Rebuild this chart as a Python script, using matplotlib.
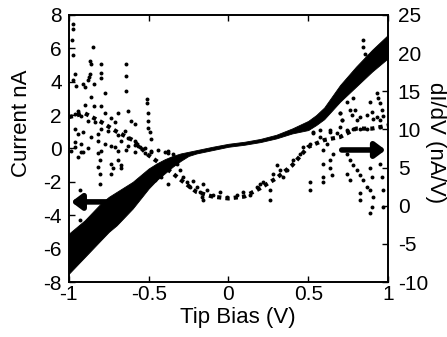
import numpy as np
import matplotlib
matplotlib.use("Agg")
import matplotlib.pyplot as plt
from matplotlib import rcParams

rcParams['font.family'] = ['Liberation Sans', 'DejaVu Sans']
rcParams['axes.unicode_minus'] = False

# ---- I-V band (left axis, nA): lower / upper edge
iv_bias = [-1.0, -0.95, -0.9, -0.85, -0.8, -0.75, -0.7, -0.65, -0.6, -0.55, -0.5,
           -0.45, -0.4, -0.35, -0.3, -0.25, -0.2, -0.1, 0.0, 0.1, 0.2, 0.3, 0.4,
           0.5, 0.55, 0.6, 0.7, 0.8, 0.9, 1.0]
iv_low = [-7.5, -7.0, -6.5, -6.0, -5.5, -5.0, -4.6, -4.1, -3.6, -3.0, -2.4,
          -1.9, -1.5, -1.1, -0.75, -0.45, -0.3, -0.1, 0.1, 0.22, 0.38, 0.6, 0.9,
          1.1, 1.4, 1.75, 2.8, 3.7, 4.6, 5.4]
iv_high = [-5.1, -4.7, -4.3, -3.8, -3.3, -2.9, -2.6, -2.3, -2.0, -1.6, -1.2,
           -0.9, -0.65, -0.45, -0.3, -0.2, -0.1, 0.1, 0.28, 0.4, 0.57, 0.82, 1.2,
           1.65, 2.0, 2.45, 3.8, 4.9, 5.9, 6.8]

# ---- dI/dV trend (right axis, nA/V)
didv_bias = [-1.0, -0.9, -0.8, -0.7, -0.6, -0.5, -0.4, -0.3, -0.2, -0.1, 0.0,
             0.1, 0.2, 0.3, 0.4, 0.5, 0.6, 0.7, 0.8, 0.9, 1.0]
didv_val = [11.6, 12.1, 11.0, 9.7, 8.6, 6.6, 5.1, 3.4, 1.8, 1.2, 0.95,
            1.2, 2.3, 3.6, 5.3, 7.7, 8.6, 9.0, 10.1, 10.1, 10.5]

# ---- scattered dI/dV points
scat_bias = [-0.975, -0.975, -0.981, -0.975, -0.849, -0.870, -0.860, -0.797, -0.797, -0.797,
             -0.640, -0.640, -0.640, -0.964, -0.975, -0.954, -0.912, -0.901, -0.870, -0.876,
             -0.881, -0.843, -0.772, -0.864, -0.901, -0.843, -0.797, -0.509, -0.509, -0.630,
             -0.504, -0.693, -0.776, -0.964, -0.943, -0.922, -0.881, -0.839, -0.734, -0.713,
             -0.609, -0.588, -0.504, -0.504, -0.494, -0.484, -0.964, -0.943, -0.912, -0.860,
             -0.818, -0.797, -0.755, -0.693, -0.651, -0.630, -0.588, -0.567, -0.964, -0.922,
             -0.881, -0.818, -0.776, -0.734, -0.672, -0.630, -0.525, -0.985, -0.912, -0.797,
             -0.693, -0.588, -0.484, -0.400, -0.379,
             -0.964, -0.922, -0.943, -0.818, -0.807, -0.818, -0.807, -0.807, -0.734, -0.724,
             -0.693, -0.672, -0.672, -0.734, -0.713, -0.640, -0.588, -0.557, -0.525, -0.484,
             -0.442, -0.379, -0.933, -0.933, -0.463, -0.421, -0.379,
             -0.346, -0.325, -0.304, -0.283, -0.262, -0.221, -0.200, -0.179, -0.158, -0.137,
             -0.095, -0.054, -0.012, 0.051, 0.093, 0.135, 0.176, 0.197, 0.218, 0.260,
             0.260, 0.281, 0.302, 0.323, 0.344, 0.365, -0.158, -0.242, -0.168,
             0.845, 0.845, 0.856, 0.866, 0.929, 0.939, 0.950, 0.960, 0.971, 0.887,
             0.898, 0.908, 0.783, 0.793, 0.804, 0.741, 0.762, 0.699, 0.710, 0.699,
             0.678, 0.636, 0.741, 0.783, 0.825, 0.866, 0.950, 0.574, 0.532,
             0.699, 0.710, 0.772, 0.825, 0.866, 0.929, 0.950, 0.532, 0.574, 0.636,
             0.616, 0.595, 0.657, 0.636, 0.595, 0.741, 0.762, 0.783, 0.804, 0.825,
             0.845, 0.866, 0.825, 0.825, 0.887, 0.898, 0.887, 0.908, 0.898, 0.887,
             0.950, 0.960, 0.741, 0.762, 0.636, 0.647, 0.595, 0.595, 0.511, 0.511,
             0.511, 0.448, 0.469, 0.407, 0.971, 0.971]
scat_val = [23.8, 23.1, 21.7, 19.8, 20.8, 19.0, 18.5, 18.6, 17.4, 16.7,
            18.5, 17.0, 15.0, 17.2, 16.4, 15.7, 15.9, 15.6, 17.2, 16.8,
            16.4, 15.9, 14.7, 14.2, 13.2, 13.1, 13.1, 14.0, 13.5, 12.4,
            12.2, 12.1, 12.1, 12.0, 12.4, 11.8, 11.1, 10.9, 11.5, 11.0,
            11.1, 10.7, 11.1, 10.2, 9.6, 8.7, 10.0, 9.4, 9.6, 9.0,
            9.4, 10.0, 9.8, 9.2, 9.8, 8.9, 8.5, 7.8, 8.3, 8.1,
            7.6, 8.5, 8.1, 7.8, 8.5, 7.8, 7.6, 7.2, 7.0, 7.2,
            7.2, 7.0, 7.2, 7.0, 7.2,
            7.7, 7.1, 6.4, 6.9, 6.0, 5.1, 4.2, 2.9, 5.5, 4.9,
            6.0, 5.3, 4.9, 4.2, 7.7, 7.3, 7.9, 7.7, 6.9, 7.1,
            7.3, 6.9, 2.0, -1.9, 3.4, 3.8, 2.9,
            6.8, 5.5, 4.7, 3.8, 3.1, 3.3, 2.5, 1.8, 0.7, 2.0,
            1.4, 1.8, 1.2, 1.4, 1.8, 1.4, 2.5, 2.9, 3.1, 2.0,
            0.7, 4.2, 5.3, 4.7, 3.8, 4.7, 2.9, 2.5, 1.2,
            21.7, 20.8, 19.9, 19.1, 14.7, 14.1, 13.4, 12.5, 11.7, 13.6,
            12.3, 11.4, 14.1, 12.5, 11.2, 13.6, 12.5, 12.1, 11.2, 10.3,
            9.5, 9.7, 9.9, 10.1, 10.0, 10.1, 10.3, 9.9, 9.5,
            12.1, 11.2, 11.9, 11.6, 11.9, 11.6, 11.2, 9.7, 9.0, 9.9,
            8.1, 7.3, 6.8, 6.0, 5.5, 6.8, 6.0, 5.3, 4.7, 4.0,
            3.4, 2.5, 1.6, 0.7, 4.9, 3.8, 2.0, 1.2, -0.2, -1.0,
            5.5, 3.8, 4.2, 3.4, 4.9, 4.0, 3.8, 3.1, 3.1, 2.0,
            8.1, 6.8, 7.7, 6.0, 2.0, -0.2]

fig = plt.figure(figsize=(4.47, 3.37), dpi=100, facecolor='white')
ax = fig.add_axes([0.154, 0.163, 0.714, 0.793])
ax2 = ax.twinx()

# current band
ax.fill_between(iv_bias, iv_low, iv_high, color='k', lw=0.6, edgecolor='k')

# dI/dV points
ax2.plot(didv_bias, didv_val, color='k', ls=(0, (1, 1)), lw=3)
ax2.scatter(scat_bias, scat_val, s=8, color='k', lw=0)

# arrows
ax.annotate('', xy=(-0.985, -3.2), xytext=(-0.72, -3.2),
            arrowprops=dict(arrowstyle='-|>,head_width=0.45,head_length=0.6',
                            lw=4, color='k', shrinkA=0, shrinkB=0))
ax2.annotate('', xy=(0.985, 7.3), xytext=(0.71, 7.3),
             arrowprops=dict(arrowstyle='-|>,head_width=0.45,head_length=0.6',
                             lw=4, color='k', shrinkA=0, shrinkB=0))

ax.set_xlim(-1, 1)
ax.set_ylim(-8, 8)
ax2.set_ylim(-10, 25)
ax.set_xticks([-1, -0.5, 0, 0.5, 1])
ax.set_xticklabels(['-1', '-0.5', '0', '0.5', '1'])
ax.set_yticks(np.arange(-8, 9, 2))
ax2.set_yticks(np.arange(-10, 26, 5))

ax.tick_params(axis='x', direction='in', top=True, length=4, width=1, labelsize=15, pad=2)
ax.tick_params(axis='y', direction='in', length=4, width=1, labelsize=15, pad=5)
ax2.tick_params(axis='y', direction='in', length=4, width=1, labelsize=15, pad=7)
for sp in ax.spines.values():
    sp.set_linewidth(1.2)
for sp in ax2.spines.values():
    sp.set_linewidth(1.2)

fig.text(0.049, 0.635, 'Current nA', rotation=90, ha='center', va='center', fontsize=16)
fig.text(0.533, 0.059, 'Tip Bias (V)', ha='center', va='center', fontsize=16)
fig.text(0.975, 0.576, 'dI/dV (nA/V)', rotation=270, ha='center', va='center', fontsize=16)

plt.savefig('out.png', dpi=100, facecolor='white')
